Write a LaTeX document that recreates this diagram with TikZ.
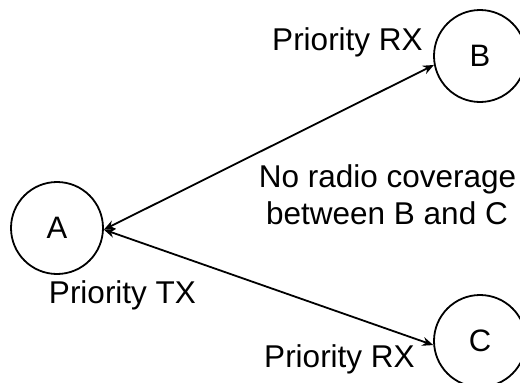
\documentclass[tikz,border=0pt]{standalone}
\usepackage{fontspec}
\setmainfont{Liberation Sans}
\usetikzlibrary{arrows.meta}
\begin{document}
\begin{tikzpicture}[x=1pt,y=-1pt,
  station/.style={circle,draw,line width=1.8pt,minimum size=92pt,inner sep=0pt,font=\fontsize{31}{37}\selectfont},
  lbl/.style={anchor=base,inner sep=0pt,font=\fontsize{31.5}{38}\selectfont},
  link/.style={line width=1.8pt,{Stealth[length=11pt,width=9pt]}-{Stealth[length=11pt,width=9pt]}}]
\useasboundingbox (0,0) rectangle (520,383);
\clip (0,0) rectangle (520,383);
\node[station] (A) at (57,228) {A};
\node[station] (B) at (480,56) {B};
\node[station] (C) at (480,341) {C};
\draw[link] (A.-2) -- (B.191);
\draw[link] (A.-2) -- (C.185);
\node[lbl] (rxb) at (347.5,50) {Priority RX};
\node[lbl] (rxc) at (339.5,367) {Priority RX};
\node[lbl] (tx) at (122.5,303) {Priority TX};
\node[lbl] (nc1) at (387.5,187) {No radio coverage};
\node[lbl] (nc2) at (387,224) {between B and C};
\end{tikzpicture}
\end{document}
